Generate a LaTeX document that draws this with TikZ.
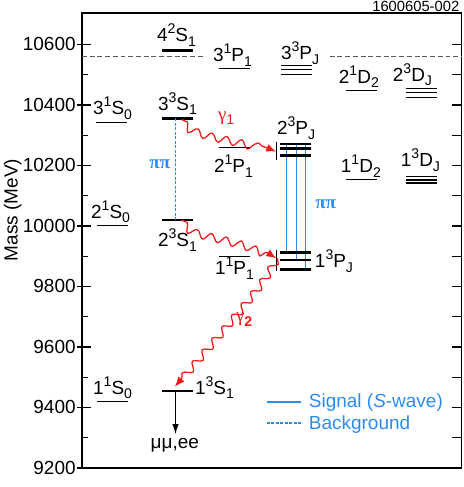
\documentclass[tikz,border=0pt]{standalone}
\usepackage{fontspec}
\setmainfont{Liberation Sans}
\newfontfamily\greekfont{Liberation Serif}
\usepackage{xcolor}
\definecolor{signalblue}{HTML}{2B8CF0}
\definecolor{photonred}{HTML}{F01818}
\usetikzlibrary{arrows.meta, decorations.pathmorphing}
\newcommand{\lblfont}{\fontsize{13.5}{16}\selectfont}
\newcommand{\idxfont}{\fontsize{10}{11}\selectfont}
\newcommand{\st}[4]{#1\raisebox{0.42em}{\idxfont #2}#3\raisebox{-0.25em}{\idxfont #4}}

\begin{document}
\begin{tikzpicture}[x=0.025cm, y=0.0075625cm,
    every node/.style={font=\lblfont, inner sep=0pt},
    lvl/.style={line width=0.75pt},
    lvlmid/.style={line width=1.2pt},
    lvlthick/.style={line width=1.9pt},
    photon/.style={photonred, line width=0.9pt, decorate,
        decoration={snake, amplitude=0.095cm, segment length=0.38cm, post length=0.22cm},
        -{Latex[length=0.25cm, width=0.2cm]}},
    pipi/.style={signalblue, line width=1pt}]
    \useasboundingbox (0,9137.2) rectangle (464,10747.1);

    % frame and axis
    \draw[line width=1.3pt] (82,9200) rectangle (462,10703);
    \foreach \m in {9200,9400,...,10600} {
        \draw[line width=0.8pt] (77,\m) -- (91,\m);
        \draw[line width=0.8pt] (452,\m) -- (462,\m);
        \node[anchor=east] (t\m) at (76,\m) {\m};
    }
    \foreach \m in {9300,9500,...,10500} {
        \draw[line width=0.8pt] (82,\m) -- (88,\m);
        \draw[line width=0.8pt] (452,\m) -- (462,\m);
    }
    \node[rotate=90] (ylabel) at (12.7,10053) {Mass (MeV)};
    \node[anchor=east, font=\fontsize{10.5}{12}\selectfont] (fignum) at (460,10727) {1600605-002};

    % BB threshold
    \draw[gray!70!black, line width=0.8pt, dash pattern=on 3.5pt off 2pt] (82,10560) -- (203,10560);
    \draw[gray!70!black, line width=0.8pt, dash pattern=on 3.5pt off 2pt] (330,10560) -- (462,10560);

    % levels
    \foreach \xa/\m in {96/10341, 97/10003, 97/9419, 219/10521, 219/10259, 219/9898.5,
        281/10531, 281/10517, 281/10502, 346/10447, 406/10454, 406/10440, 406/10426, 346/10155}
        \draw[lvl] (\xa,\m) -- ++(31,0);
    \foreach \m in {10163, 10153, 10143}
        \draw[lvlmid] (406,\m) -- ++(31,0);
    \foreach \xa/\m in {162/10579.5, 162/10356, 162/10020, 162/9454.5}
        \draw[lvlthick] (\xa,\m) -- ++(31,0);
    \draw[line width=0.8pt] (277,10279) -- (277,10218);
    \draw[line width=0.8pt] (277,9920.7) -- (277,9852.2);

    % level labels
    \node[anchor=base west] (s4) at (157,10609) {\st{4}{2}{S}{1}};
    \node[anchor=base west] (hb3) at (213,10543) {\st{3}{1}{P}{1}};
    \node[anchor=base west] (chi3) at (281,10550) {\st{3}{3}{P}{J}};
    \node[anchor=base west] (d2s) at (339,10472) {\st{2}{1}{D}{2}};
    \node[anchor=base west] (d2t) at (393,10479) {\st{2}{3}{D}{J}};
    \node[anchor=base west] (eta3) at (93,10367) {\st{3}{1}{S}{0}};
    \node[anchor=base west] (s3) at (158,10383) {\st{3}{3}{S}{1}};
    \node[anchor=base west] (chi2) at (277,10301) {\st{2}{3}{P}{J}};
    \node[anchor=base west] (hb2) at (214,10176) {\st{2}{1}{P}{1}};
    \node[anchor=base west] (d1s) at (341,10177) {\st{1}{1}{D}{2}};
    \node[anchor=base west] (d1t) at (401,10196) {\st{1}{3}{D}{J}};
    \node[anchor=base west] (eta2) at (91,10026) {\st{2}{1}{S}{0}};
    \node[anchor=base west] (s2) at (158,9932) {\st{2}{3}{S}{1}};
    \node[anchor=base west] (hb1) at (215,9840) {\st{1}{1}{P}{1}};
    \node[anchor=base west] (chi1) at (315,9863) {\st{1}{3}{P}{J}};
    \node[anchor=base west] (eta1) at (93,9444) {\st{1}{1}{S}{0}};
    \node[anchor=base west] (s1) at (195,9444) {\st{1}{3}{S}{1}};

    % pi pi transitions
    \coordinate (s3pp) at (175.7,10356);
    \coordinate (s2pp) at (175.7,10020);
    \draw[pipi, line width=1.2pt, dash pattern=on 2.2pt off 1pt] (s3pp) -- (s2pp);
    \node[signalblue] (pplow) at (160,10205) {\greekfont\bfseries ππ};
    \foreach \xb/\mend in {287/9913, 296.5/9888, 306/9857}
        \draw[pipi] (\xb,10271) -- (\xb,\mend);
    \foreach \m in {10271, 10255, 10232, 9913, 9888, 9857}
        \draw[lvlthick] (280,\m) -- ++(31,0);
    \node[signalblue] (pphigh) at (326,10073) {\greekfont\bfseries ππ};

    % radiative transitions
    \coordinate (s3r) at (181.7,10352);
    \coordinate (p2bar) at (276.5,10245.6);
    \coordinate (s2r) at (181.7,10020);
    \coordinate (p1bar) at (276.5,9893);
    \coordinate (p1out) at (277.7,9893);
    \coordinate (s1top) at (175,9468.8);
    \draw[photon] (s3r) .. controls (190,10301) and (240,10301) .. (p2bar);
    \draw[photon] (s2r) .. controls (190,9964) and (240,9980) .. (p1bar);
    \draw[photon] (p1out) .. controls (262,9805) .. (s1top);
    \node[photonred, anchor=base west] (g1) at (218,10350) {{\greekfont γ}\raisebox{-0.25em}{\idxfont 1}};
    \node[photonred, anchor=base west] (g2) at (236,9683) {{\greekfont γ}\raisebox{-0.25em}{\idxfont\bfseries 2}};

    % decay
    \coordinate (s1dec) at (175.7,9454.5);
    \coordinate (s1end) at (175.7,9312);
    \draw[line width=0.8pt, -{Latex[length=0.25cm, width=0.16cm]}] (s1dec) -- (s1end);
    \node (dilep) at (175,9276) {μμ,ee};

    % legend
    \draw[signalblue, line width=1.1pt] (267,9418) -- (301,9418);
    \draw[signalblue, line width=1pt, dash pattern=on 2pt off 1.2pt] (267,9349) -- (301,9349);
    \node[signalblue, anchor=west] (sig) at (309,9415) {Signal (\textit{S}-wave)};
    \node[signalblue, anchor=west] (bkg) at (309,9342) {Background};
\end{tikzpicture}
\end{document}
